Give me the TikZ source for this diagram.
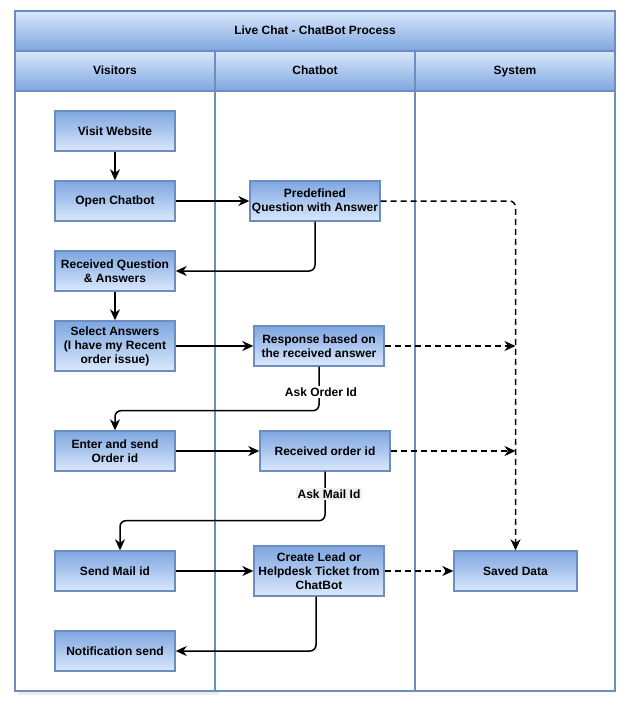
\documentclass[tikz,border=0pt]{standalone}
\usepackage{fontspec}
\setmainfont{Liberation Sans}
\usetikzlibrary{arrows.meta}
\definecolor{bd}{HTML}{6C8EBF}
\definecolor{lt}{HTML}{DAE8FC}
\definecolor{dk}{HTML}{7EA6E0}
\definecolor{lblbg}{HTML}{F0F0F0}
\begin{document}
\begin{tikzpicture}[x=1pt,y=-1pt,
  txt/.style={font=\fontsize{12}{14}\selectfont\bfseries},
  proc/.style={txt, draw=bd, line width=1.4pt, top color=dk, bottom color=lt, align=center, inner sep=0pt, minimum width=120pt, minimum height=40pt},
  hdr/.style={txt, draw=bd, line width=1.8pt, top color=lt, bottom color=dk, inner sep=0pt, minimum height=40pt, text height=9pt, text depth=2.5pt},
  lane/.style={draw=bd, line width=1.8pt, fill=white, inner sep=0pt, minimum width=200pt, minimum height=600pt},
  arr/.style={draw=black, line width=1.5pt, -{Stealth[length=11pt,width=10pt,inset=3.5pt]}, rounded corners=6pt},
  dsh/.style={arr, dash pattern=on 6pt off 4pt},
  lbl/.style={txt, fill=white, inner sep=1.5pt}
]
\useasboundingbox (0,0) rectangle (626,709);
% pool and lanes
\fill[black!7] (18,94) rectangle (219,695);
\node[lane] (vl) at (115,391) {};
\node[lane] (cl) at (315,391) {};
\node[lane] (sl) at (515,391) {};
\node[hdr, minimum width=600pt] (title) at (315,31) {Live Chat - ChatBot Process};
\node[hdr, minimum width=200pt] (vh) at (115,71) {Visitors};
\node[hdr, minimum width=200pt] (ch) at (315,71) {Chatbot};
\node[hdr, minimum width=200pt] (sh) at (515,71) {System};
% visitor nodes
\node[proc] (visit) at (115,131) {Visit Website};
\node[proc] (open) at (115,201) {Open Chatbot};
\node[proc] (recq) at (115,271) {Received Question\\\& Answers};
\node[proc, minimum height=50pt] (sel) at (115,346) {Select Answers\\(I have my Recent\\order issue)};
\node[proc] (enter) at (115,451) {Enter and send\\Order id};
\node[proc] (mail) at (115,571) {Send Mail id};
\node[proc] (notif) at (115,651) {Notification send};
% chatbot nodes
\node[proc, minimum width=130pt] (pre) at (315,201) {Predefined\\Question with Answer};
\node[proc, minimum width=130pt] (resp) at (319,346) {Response based on\\the received answer};
\node[proc, minimum width=130pt] (rord) at (325,451) {Received order id};
\node[proc, minimum width=130pt, minimum height=50pt] (lead) at (319,571) {Create Lead or\\Helpdesk Ticket from\\ChatBot};
% system
\node[proc, minimum width=123pt] (saved) at (515.5,571) {Saved Data};
\coordinate (j1) at (515.5,346);
\coordinate (j2) at (515.5,451);
% connectors
\draw[arr] (visit) -- (open);
\draw[arr] (open) -- (pre);
\draw[arr] (pre.south) |- (recq.east);
\draw[arr] (recq) -- (sel);
\draw[arr] (sel) -- (resp);
\draw[arr] (resp.south) -- ++(0,44) -| (enter.north);
\node[lbl] (l1) at (321,392) {Ask Order Id};
\draw[arr] (enter) -- (rord);
\draw[arr] (rord.south) -- ++(0,49) -| ([xshift=5pt]mail.north);
\node[txt, fill=lblbg, inner sep=1.5pt] (l2) at (329,494) {Ask Mail Id};
\draw[arr] (mail) -- (lead);
\draw[arr] ([xshift=-3pt]lead.south) |- (notif.east);
% dashed
\draw[dsh] (pre.east) -| (saved.north);
\draw[dsh] (resp.east) -- (j1);
\draw[dsh] (rord.east) -- (j2);
\draw[dsh] (lead) -- (saved);
\end{tikzpicture}
\end{document}
